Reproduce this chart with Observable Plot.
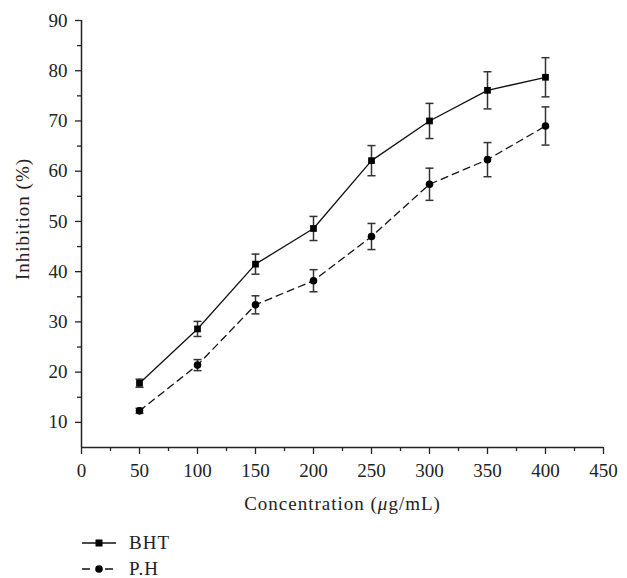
<!DOCTYPE html>
<html>
<head>
<meta charset="utf-8">
<script src="https://cdn.jsdelivr.net/npm/d3@7"></script>
<script src="https://cdn.jsdelivr.net/npm/@observablehq/plot@0.6"></script>
<style>
  html, body { margin: 0; padding: 0; background: #fff; }
  #chart { position: relative; width: 627px; }
  .legend { font-family: "Liberation Serif", serif; font-size: 19px; letter-spacing: 1px; color: #222; position: relative; }
  .legend .row { position: absolute; left: 80px; height: 20px; display: flex; align-items: center; }
  .legend svg { display: block; }
  .legend span { margin-left: 11px; }
</style>
</head>
<body>
<div id="chart"></div>
<script>
const conc = [50, 100, 150, 200, 250, 300, 350, 400];
const bht = [17.8, 28.6, 41.5, 48.6, 62.1, 70.0, 76.1, 78.7];
const bhtErr = [0.8, 1.5, 2.0, 2.4, 3.0, 3.5, 3.7, 3.9];
const ph = [12.3, 21.4, 33.4, 38.2, 47.0, 57.4, 62.3, 69.0];
const phErr = [0.5, 1.1, 1.8, 2.2, 2.6, 3.2, 3.4, 3.8];
const seriesNames = ["BHT", "P.H"];
const xTicks = [0, 50, 100, 150, 200, 250, 300, 350, 400, 450];
const xMinor = [25, 75, 125, 175, 225, 275, 325, 375, 425];
const yTicks = [10, 20, 30, 40, 50, 60, 70, 80, 90];
const yMinor = [15, 25, 35, 45, 55, 65, 75, 85];
const xLabelParts = ["Concentration (", "\u03bc", "g/mL)"];
const xLabel = xLabelParts.join("");
const yLabel = "Inhibition (%)";

const rows = [];
conc.forEach((c, i) => {
  rows.push({series: seriesNames[0], x: c, y: bht[i], e: bhtErr[i]});
  rows.push({series: seriesNames[1], x: c, y: ph[i], e: phErr[i]});
});
const bhtRows = rows.filter(d => d.series === "BHT");
const phRows = rows.filter(d => d.series === "P.H");

const capSymbol = {
  draw(context, size) {
    const w = 4;
    context.moveTo(-w, 0);
    context.lineTo(w, 0);
  }
};

const font = "Liberation Serif, serif";
const plot = Plot.plot({
  width: 627,
  height: 515,
  marginLeft: 81,
  marginRight: 24,
  marginTop: 20,
  marginBottom: 68,
  style: {fontFamily: font, fontSize: "19px", color: "#222", background: "#fff"},
  x: {domain: [0, 450]},
  y: {domain: [5, 90]},
  marks: [
    Plot.axisX({ticks: xTicks, tickSize: 7, tickPadding: 9, label: null, stroke: "#222", strokeWidth: 1.3}),
    Plot.axisX({ticks: xMinor, tickSize: 4, tickFormat: () => "", label: null, stroke: "#222", strokeWidth: 1.3}),
    Plot.axisY({ticks: yTicks, tickSize: 6, tickPadding: 8, label: null, stroke: "#222", strokeWidth: 1.3}),
    Plot.axisY({ticks: yMinor, tickSize: 4, tickFormat: () => "", label: null, stroke: "#222", strokeWidth: 1.3}),
    Plot.ruleX([0], {stroke: "#222", strokeWidth: 1.5}),
    Plot.ruleY([5], {stroke: "#222", strokeWidth: 1.5}),
    Plot.text([xLabel], {frameAnchor: "bottom", textAnchor: "middle", dy: 62, fill: "#222"}),
    Plot.text([yLabel], {frameAnchor: "left", textAnchor: "middle", rotate: -90, dx: -59, dy: -15, fill: "#222"}),
    // error bars
    Plot.ruleX(rows, {x: "x", y1: d => d.y - d.e, y2: d => d.y + d.e, stroke: "#333", strokeWidth: 1.5}),
    Plot.dot(rows, {x: "x", y: d => d.y - d.e, symbol: capSymbol, stroke: "#333", strokeWidth: 1.5, fill: "none"}),
    Plot.dot(rows, {x: "x", y: d => d.y + d.e, symbol: capSymbol, stroke: "#333", strokeWidth: 1.5, fill: "none"}),
    // lines
    Plot.line(bhtRows, {x: "x", y: "y", stroke: "#111", strokeWidth: 1.3}),
    Plot.line(phRows, {x: "x", y: "y", stroke: "#111", strokeWidth: 1.3, strokeDasharray: "7,5"}),
    // markers
    Plot.dot(bhtRows, {x: "x", y: "y", symbol: "square", r: 3.8, fill: "#000", stroke: "none"}),
    Plot.dot(phRows, {x: "x", y: "y", symbol: "circle", r: 3.8, fill: "#000", stroke: "none"})
  ]
});
const labelTexts = d3.select(plot).selectAll("text")
  .filter(function() { return this.textContent === xLabel || this.textContent === yLabel; })
  .style("letter-spacing", "1px");
labelTexts.filter(function() { return this.textContent === xLabel; })
  .each(function() {
    const t = d3.select(this);
    t.text(null);
    xLabelParts.forEach((p, i) => {
      const ts = t.append("tspan").text(p);
      if (i === 1) ts.attr("font-style", "italic");
    });
  });
document.getElementById("chart").appendChild(plot);

// legend
const legend = document.createElement("div");
legend.className = "legend";
legend.style.height = "63px";
const items = [
  {name: seriesNames[0], dash: null, symbol: "square", top: 18},
  {name: seriesNames[1], dash: "8,15", symbol: "circle", top: 44}
];
items.forEach(it => {
  const row = document.createElement("div");
  row.className = "row";
  row.style.top = it.top + "px";
  const svg = d3.create("svg").attr("width", 38).attr("height", 20);
  const line = svg.append("line").attr("x1", 2).attr("x2", 36).attr("y1", 10).attr("y2", 10)
    .attr("stroke", "#111").attr("stroke-width", 1.3);
  if (it.dash) line.attr("stroke-dasharray", it.dash).attr("x2", 35);
  if (it.symbol === "square") svg.append("rect").attr("x", 15.5).attr("y", 6.5).attr("width", 7).attr("height", 7).attr("fill", "#000");
  else svg.append("circle").attr("cx", 19).attr("cy", 10).attr("r", 3.8).attr("fill", "#000");
  row.appendChild(svg.node());
  const span = document.createElement("span");
  span.textContent = it.name;
  row.appendChild(span);
  legend.appendChild(row);
});
document.getElementById("chart").appendChild(legend);
</script>
</body>
</html>
